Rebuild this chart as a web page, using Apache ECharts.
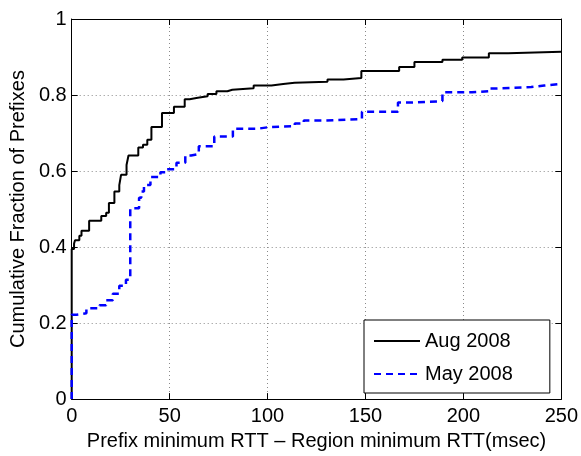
<!DOCTYPE html>
<html>
<head>
<meta charset="utf-8">
<script src="https://cdn.jsdelivr.net/npm/echarts@6/dist/echarts.min.js"></script>
<style>html,body{margin:0;padding:0;background:#fff}#c{width:581px;height:456px}</style>
</head>
<body>
<div id="c"></div>
<script>
// Tick labels
const xTicks = [0, 50, 100, 150, 200, 250];
const yTicks = [0, 0.2, 0.4, 0.6, 0.8, 1];
// Series names
const seriesNames = ['Aug 2008', 'May 2008'];
// Aug 2008: jump locations (msec) and cumulative fraction after each jump
const augRtt  = [0, 0, 1.2, 1.7, 3.9, 5.0, 8.9, 15.1, 17.6, 19.0, 21.8, 24.3, 25.2, 28.0, 29.0, 34.0, 36.4, 38.6, 40.7, 46.1, 52.2, 57.7, 60.2, 64.4, 69.4, 73.9, 79.5, 82, 92.9, 102, 108, 113.8, 130.6, 138.8, 147.9, 167.2, 175, 189.3, 199.4, 213, 222.8, 250];
const augFrac = [0, 0.395, 0.409, 0.418, 0.430, 0.443, 0.469, 0.482, 0.490, 0.516, 0.546, 0.563, 0.590, 0.616, 0.641, 0.662, 0.669, 0.682, 0.716, 0.753, 0.769, 0.789, 0.793, 0.797, 0.803, 0.810, 0.814, 0.818, 0.825, 0.829, 0.832, 0.835, 0.841, 0.845, 0.863, 0.874, 0.887, 0.893, 0.899, 0.910, 0.914, 0.915];
// May 2008
const mayRtt  = [0, 0, 2.5, 7.5, 14.2, 17.6, 21, 24.3, 27.7, 29.9, 34.4, 35.5, 36.9, 40.2, 45.3, 47.8, 53.5, 58, 61, 64.9, 72.8, 82.3, 94.6, 101.3, 113.9, 118.5, 130, 148.2, 166.6, 174.2, 189.3, 204.4, 212.8, 216.1, 234.6, 241.3, 250];
const mayFrac = [0, 0.222, 0.226, 0.239, 0.247, 0.260, 0.277, 0.298, 0.314, 0.502, 0.530, 0.546, 0.563, 0.584, 0.597, 0.605, 0.622, 0.641, 0.645, 0.665, 0.691, 0.711, 0.716, 0.718, 0.725, 0.733, 0.737, 0.756, 0.780, 0.784, 0.807, 0.810, 0.817, 0.821, 0.825, 0.829, 0.829];

const zip = (a, b) => a.map((v, i) => [v, b[i]]);
const FONT = 'Liberation Sans, Arial, Helvetica, sans-serif';

const chart = echarts.init(document.getElementById('c'), null, {renderer: 'canvas'});
const xMin = xTicks[0], xMax = xTicks[xTicks.length - 1], xInt = xTicks[1] - xTicks[0];
const yMin = yTicks[0], yMax = yTicks[yTicks.length - 1], yInt = yTicks[1] - yTicks[0];
const dotted = {show: true, lineStyle: {color: '#8a8a8a', width: 1, type: [1, 3]}};
const axLine = {show: true, onZero: false, lineStyle: {color: '#000', width: 1}};
const tick = {show: true, inside: true, length: 6, lineStyle: {color: '#000', width: 1}};

chart.setOption({
  animation: false,
  backgroundColor: '#fff',
  grid: {left: 67, right: 17, top: 19, bottom: 46, containLabel: false},
  legend: {
    orient: 'vertical', left: 364, top: 320,
    padding: [11, 37, 9, 9], itemGap: 13, itemWidth: 46, itemHeight: 20,
    backgroundColor: '#fff', borderColor: '#000', borderWidth: 1,
    itemStyle: {opacity: 0},
    textStyle: {fontFamily: FONT, fontSize: 20, color: '#000'},
    data: seriesNames
  },
  xAxis: [{
    type: 'value', min: xMin, max: xMax, interval: xInt,
    name: 'Prefix minimum RTT \u2013 Region minimum RTT(msec)',
    nameLocation: 'middle', nameGap: 28,
    nameTextStyle: {fontFamily: FONT, fontSize: 20, color: '#000'},
    axisLine: axLine, axisTick: tick,
    axisLabel: {fontFamily: FONT, fontSize: 20, color: '#000', margin: 7},
    splitLine: dotted
  }, {
    type: 'value', position: 'top', min: xMin, max: xMax, interval: xInt,
    axisLine: axLine, axisTick: tick, axisLabel: {show: false}, splitLine: {show: false}
  }],
  yAxis: [{
    type: 'value', min: yMin, max: yMax, interval: yInt,
    name: 'Cumulative Fraction of Prefixes',
    nameLocation: 'middle', nameGap: 38,
    nameTextStyle: {fontFamily: FONT, fontSize: 20, color: '#000'},
    axisLine: axLine, axisTick: tick,
    axisLabel: {fontFamily: FONT, fontSize: 20, color: '#000', margin: 5},
    splitLine: dotted
  }, {
    type: 'value', position: 'right', min: yMin, max: yMax, interval: yInt,
    axisLine: axLine, axisTick: tick, axisLabel: {show: false}, splitLine: {show: false}
  }],
  series: [{
    name: seriesNames[0], type: 'line', step: 'end', symbol: 'none',
    data: zip(augRtt, augFrac),
    lineStyle: {color: '#000', width: 2, type: 'solid'},
    itemStyle: {color: '#000'}
  }, {
    name: seriesNames[1], type: 'line', step: 'end', symbol: 'none',
    data: zip(mayRtt, mayFrac),
    lineStyle: {color: '#0000ff', width: 2.5, type: [7, 5]},
    itemStyle: {color: '#0000ff'}
  }]
});
</script>
</body>
</html>
